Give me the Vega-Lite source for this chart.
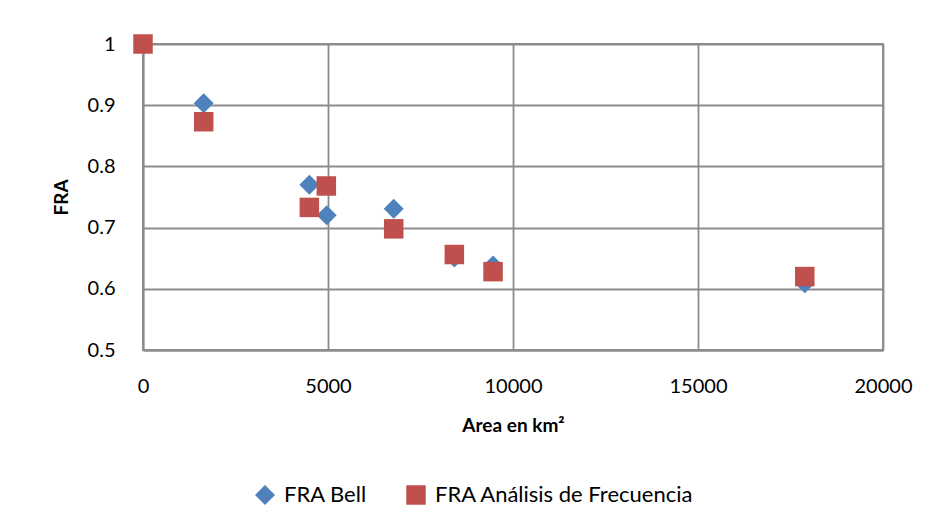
{
  "$schema": "https://vega.github.io/schema/vega-lite/v6.json",
  "width": 740,
  "height": 306,
  "autosize": "none",
  "padding": {"left": 143, "top": 44, "right": 52, "bottom": 177},
  "background": "white",
  "config": {
    "font": "Lato",
    "view": {"stroke": "#8c8c8c", "strokeWidth": 1.8},
    "axis": {
      "gridColor": "#8c8c8c", "gridWidth": 1.8, "gridOpacity": 1,
      "domainColor": "#8c8c8c", "domainWidth": 1.8,
      "ticks": false,
      "labelFont": "Lato", "labelFontSize": 20, "labelColor": "#000000",
      "titleFont": "Lato", "titleFontSize": 19, "titleFontWeight": "bold", "titleColor": "#000000"
    },
    "legend": {"labelFont": "Lato", "labelFontSize": 22, "labelColor": "#000000", "labelLimit": 400}
  },
  "data": {
    "values": [
      {"area": 1640, "fra": 0.903, "serie": "FRA Bell"},
      {"area": 4496, "fra": 0.770, "serie": "FRA Bell"},
      {"area": 4965, "fra": 0.720, "serie": "FRA Bell"},
      {"area": 6776, "fra": 0.731, "serie": "FRA Bell"},
      {"area": 8415, "fra": 0.651, "serie": "FRA Bell"},
      {"area": 9461, "fra": 0.638, "serie": "FRA Bell"},
      {"area": 17886, "fra": 0.609, "serie": "FRA Bell"},
      {"area": 0, "fra": 1.0, "serie": "FRA Análisis de Frecuencia"},
      {"area": 1640, "fra": 0.873, "serie": "FRA Análisis de Frecuencia"},
      {"area": 4496, "fra": 0.733, "serie": "FRA Análisis de Frecuencia"},
      {"area": 4955, "fra": 0.768, "serie": "FRA Análisis de Frecuencia"},
      {"area": 6776, "fra": 0.698, "serie": "FRA Análisis de Frecuencia"},
      {"area": 8415, "fra": 0.656, "serie": "FRA Análisis de Frecuencia"},
      {"area": 9461, "fra": 0.628, "serie": "FRA Análisis de Frecuencia"},
      {"area": 17886, "fra": 0.620, "serie": "FRA Análisis de Frecuencia"}
    ]
  },
  "mark": {"type": "point", "filled": true, "opacity": 1},
  "encoding": {
    "x": {
      "field": "area", "type": "quantitative",
      "scale": {"domain": [0, 20000], "nice": false, "zero": false},
      "axis": {"values": [0, 5000, 10000, 15000, 20000], "title": "Area en km²", "labelPadding": 26, "titlePadding": 20, "format": "d", "labelFlush": false}
    },
    "y": {
      "field": "fra", "type": "quantitative",
      "scale": {"domain": [0.5, 1], "nice": false, "zero": false},
      "axis": {"values": [0.5, 0.6, 0.7, 0.8, 0.9, 1], "title": "FRA", "labelPadding": 28, "titlePadding": 16, "format": "~g", "labelFlush": false}
    },
    "color": {
      "field": "serie", "type": "nominal",
      "scale": {"domain": ["FRA Bell", "FRA Análisis de Frecuencia"], "range": ["#4F81BD", "#C0504D"]},
      "legend": {"title": null, "orient": "none", "legendX": 111, "legendY": 440, "direction": "horizontal", "columnPadding": 38, "symbolSize": 300, "labelOffset": 8}
    },
    "shape": {
      "field": "serie", "type": "nominal",
      "scale": {"domain": ["FRA Bell", "FRA Análisis de Frecuencia"], "range": ["diamond", "square"]}
    },
    "size": {
      "field": "serie", "type": "nominal",
      "scale": {"domain": ["FRA Bell", "FRA Análisis de Frecuencia"], "range": [400, 380]},
      "legend": null
    }
  }
}
